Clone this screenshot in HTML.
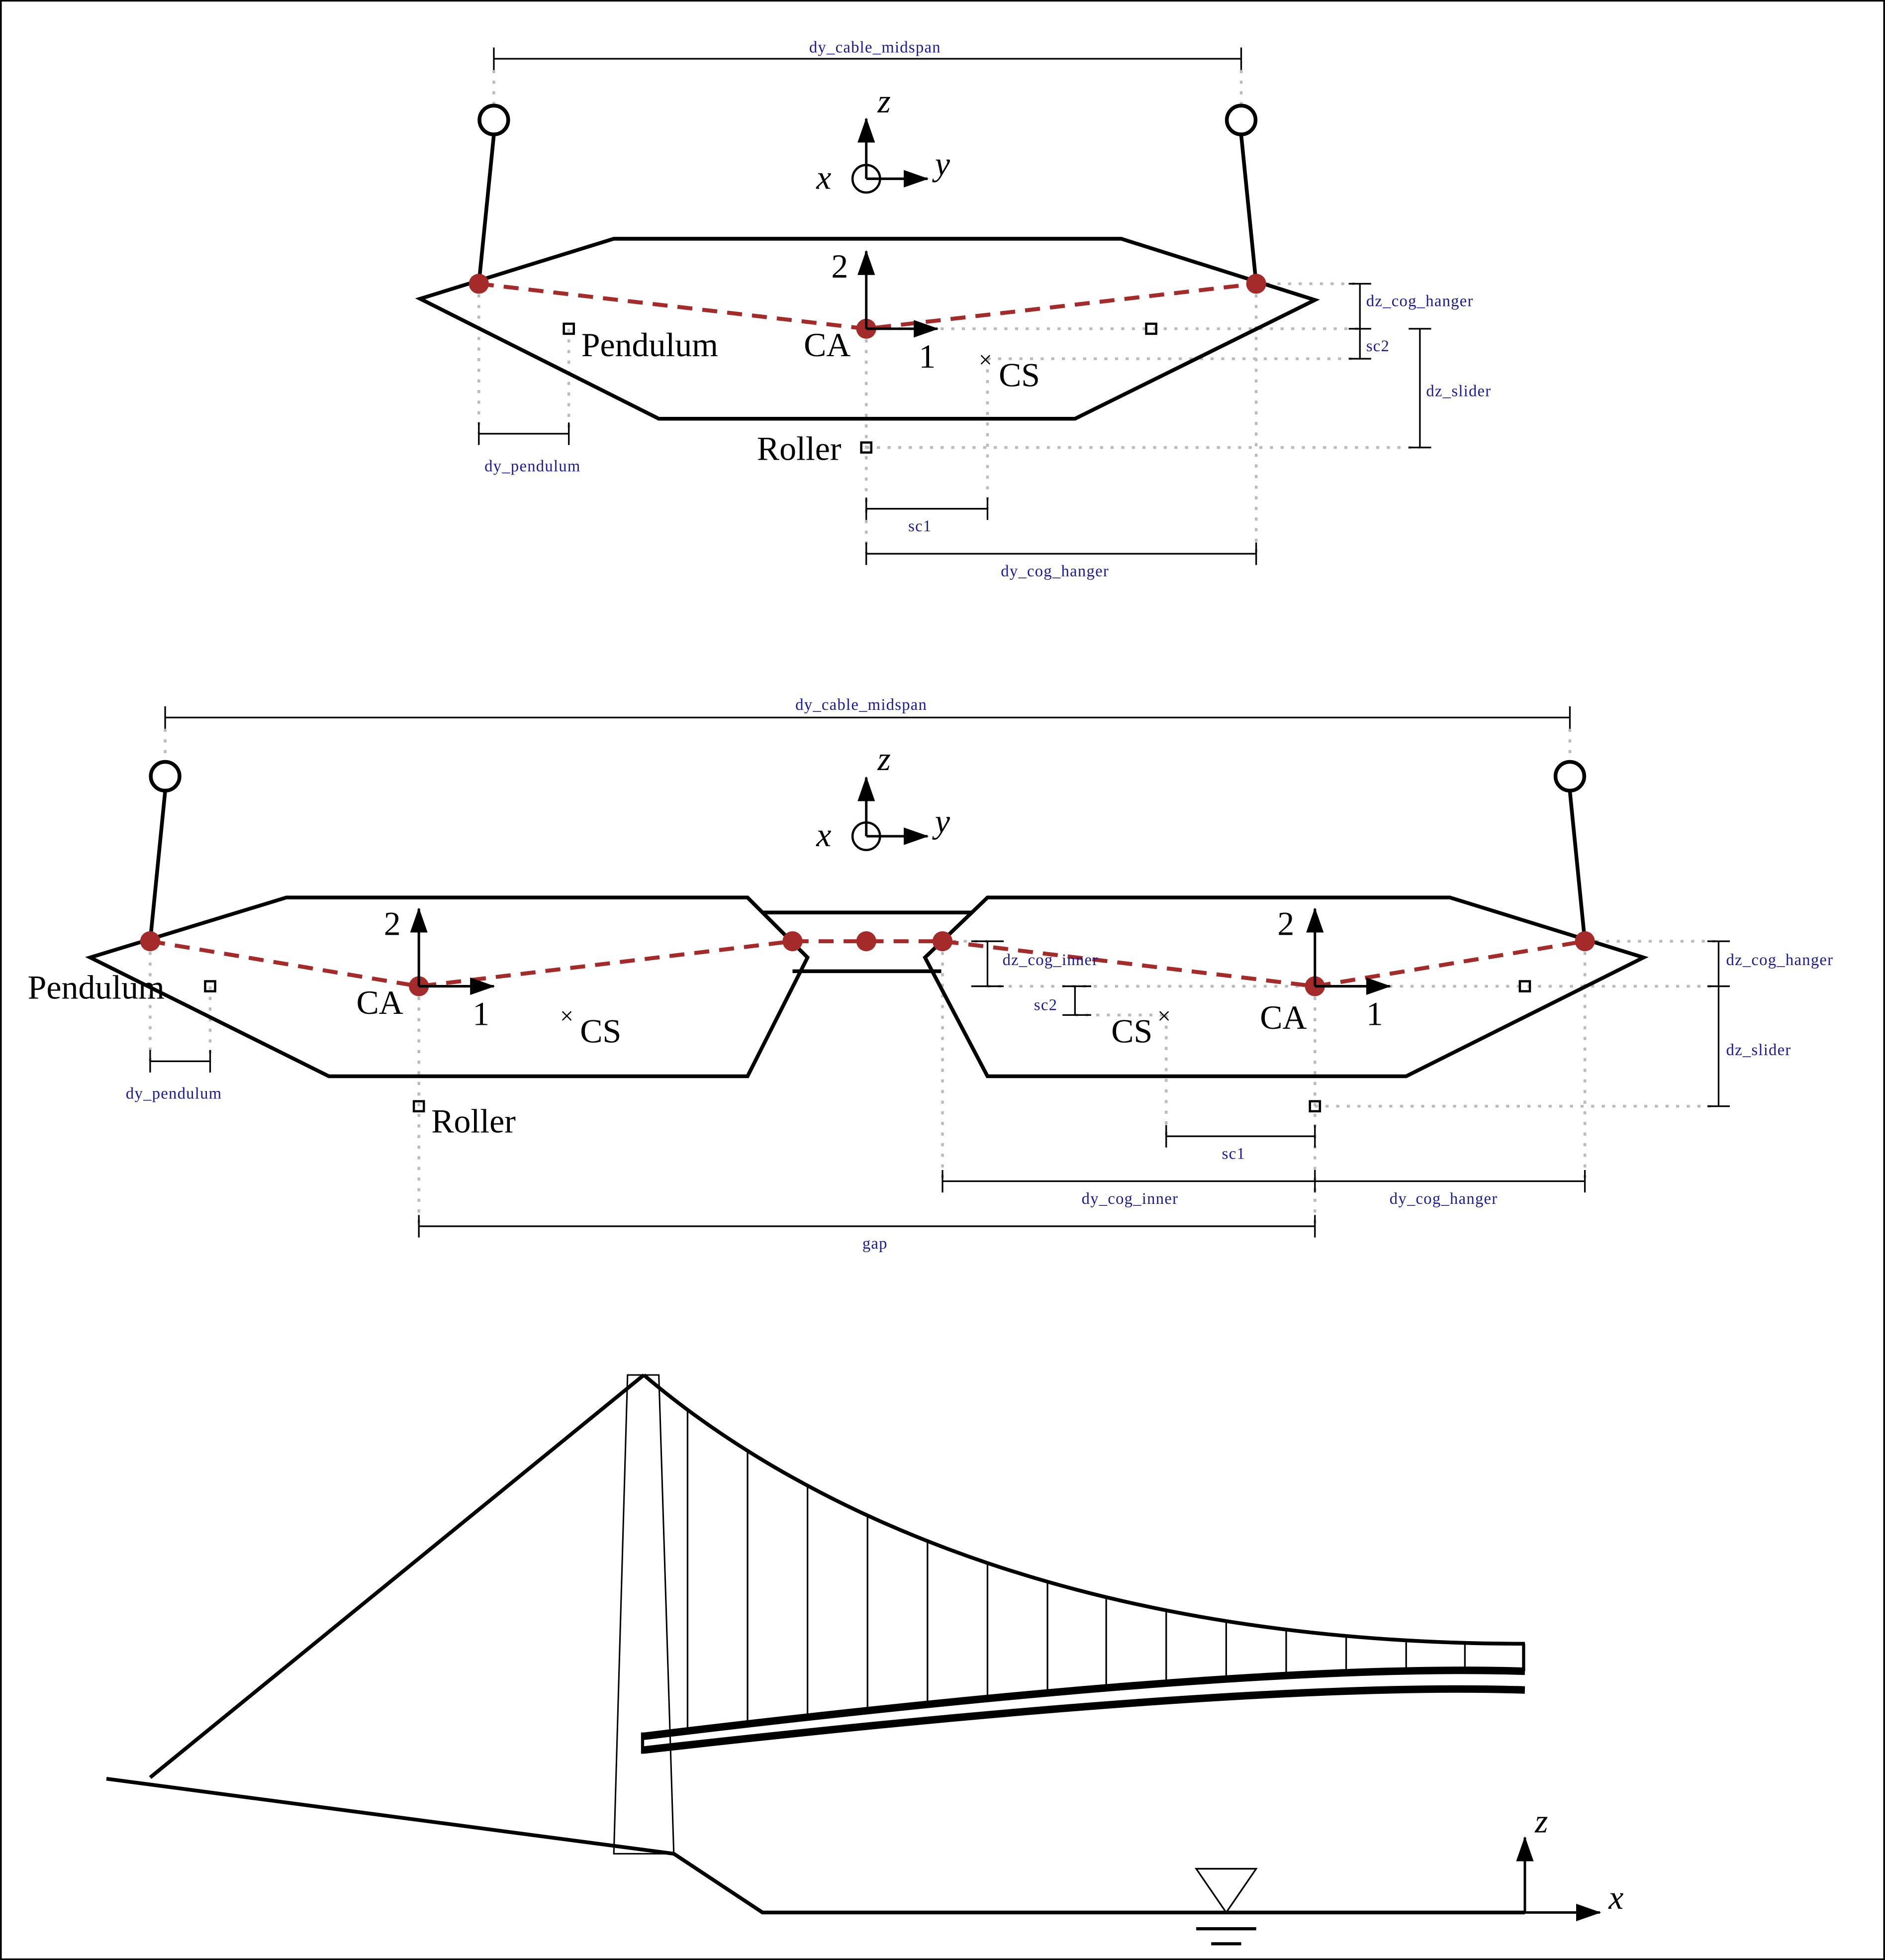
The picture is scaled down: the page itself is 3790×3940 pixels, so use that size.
<!DOCTYPE html>
<html><head><meta charset="utf-8"><style>
html,body{margin:0;padding:0;background:#fff}
svg{display:block}
.t{font-family:"Liberation Serif",serif;font-size:27px;fill:#000}
.b{font-family:"Liberation Serif",serif;font-size:13px;fill:#1a1a9a;letter-spacing:0.5px}
.d{stroke:#bbb;stroke-width:2.2;stroke-dasharray:2.5 6;fill:none}
.k{stroke:#000;stroke-width:1.3;fill:none}
.s{stroke:#000;stroke-width:3;fill:none;stroke-linejoin:miter}
.r{stroke:#a52a2a;stroke-width:3.2;stroke-dasharray:12 8;fill:none}
</style></head><body>
<svg id="fig" width="3790" height="3940" viewBox="0 0 1508 1568" xmlns="http://www.w3.org/2000/svg">
<defs><marker id="ah" viewBox="0 0 20 14" refX="19" refY="7" markerWidth="20" markerHeight="14" markerUnits="userSpaceOnUse" orient="auto"><path d="M0,0 L20,7 L0,14 z"/></marker></defs>
<rect x="0.5" y="0.5" width="1507" height="1567" fill="#fff" stroke="#000" stroke-width="1.5"/>

<!-- TOP -->
<g>
<path class="d" d="M395,56V84 M993,56V84 M383,227V347 M455,263V347 M693,263V443 M790,287V407 M1005,227V443 M1005,227H1088 M693,263H1088 M790,287H1088 M693,358H1136"/>
<path class="k" d="M395,47H993 M395,38V56 M993,38V56"/>
<text class="b" x="700" y="42" text-anchor="middle">dy_cable_midspan</text>
<circle cx="395" cy="96" r="11.5" class="s"/><circle cx="993" cy="96" r="11.5" class="s"/>
<path class="s" d="M395,108L383,227 M993,108L1005,227"/>
<path class="k" style="stroke-width:2" d="M693,143V95" marker-end="url(#ah)"/>
<path class="k" style="stroke-width:2" d="M693,143H742" marker-end="url(#ah)"/>
<circle cx="693" cy="143" r="11" class="k" style="stroke-width:1.8"/>
<text class="t" x="702" y="90" font-style="italic">z</text><text class="t" x="748" y="140" font-style="italic">y</text><text class="t" x="653" y="151" font-style="italic">x</text>
<path class="s" d="M336,239L491,191H897L1052,240L860,335H527Z"/>
<path class="r" d="M383,227L693,263L1005,227"/>
<circle cx="383" cy="227" r="8" fill="#a52a2a"/><circle cx="693" cy="263" r="8" fill="#a52a2a"/><circle cx="1005" cy="227" r="8" fill="#a52a2a"/>
<path class="k" style="stroke-width:2" d="M693,263V201" marker-end="url(#ah)"/>
<path class="k" style="stroke-width:2" d="M693,263H750" marker-end="url(#ah)"/>
<text class="t" x="665" y="222">2</text><text class="t" x="735" y="294">1</text><text class="t" x="643" y="285">CA</text>
<rect x="451" y="259" width="8" height="8" class="k" style="stroke-width:1.8"/><text class="t" x="465" y="285">Pendulum</text>
<rect x="917" y="259" width="8" height="8" class="k" style="stroke-width:1.8"/>
<text class="t" x="783" y="294" style="font-size:19px">×</text><text class="t" x="799" y="309">CS</text>
<rect x="689" y="354" width="8" height="8" class="k" style="stroke-width:1.8"/><text class="t" x="673" y="368" text-anchor="end">Roller</text>
<path class="k" d="M383,347H455 M383,338V356 M455,338V356"/><text class="b" x="426" y="377" text-anchor="middle">dy_pendulum</text>
<path class="k" d="M693,407H790 M693,398V416 M790,398V416"/><text class="b" x="736" y="425" text-anchor="middle">sc1</text>
<path class="k" d="M693,443H1005 M693,434V452 M1005,434V452"/><text class="b" x="844" y="461" text-anchor="middle">dy_cog_hanger</text>
<path class="k" d="M1088,227V287 M1079,227H1097 M1079,263H1097 M1079,287H1097"/>
<text class="b" x="1093" y="245">dz_cog_hanger</text><text class="b" x="1093" y="281">sc2</text>
<path class="k" d="M1136,263V358 M1127,263H1145 M1127,358H1145"/><text class="b" x="1141" y="317">dz_slider</text>
</g>

<!-- MIDDLE -->
<g>
<path class="d" d="M132,583V610 M1256,583V610 M120,753V849 M168,789V849 M335,789V981 M754,753V945 M933,812V909 M1052,789V981 M1268,753V945 M1268,753H1375 M1052,789H1375 M1052,885H1375 M790,789H1052 M860,812H933 M754,753H790"/>
<path class="k" d="M132,574H1256 M132,565V583 M1256,565V583"/>
<text class="b" x="689" y="568" text-anchor="middle">dy_cable_midspan</text>
<circle cx="132" cy="621" r="11.5" class="s"/><circle cx="1256" cy="621" r="11.5" class="s"/>
<path class="s" d="M132,633L120,753 M1256,633L1268,753"/>
<path class="k" style="stroke-width:2" d="M693,669V622" marker-end="url(#ah)"/>
<path class="k" style="stroke-width:2" d="M693,669H742" marker-end="url(#ah)"/>
<circle cx="693" cy="669" r="11" class="k" style="stroke-width:1.8"/>
<text class="t" x="702" y="616" font-style="italic">z</text><text class="t" x="748" y="666" font-style="italic">y</text><text class="t" x="653" y="677" font-style="italic">x</text>
<path class="s" d="M72,766L229,718H598L646,766L598,861H263Z"/>
<path class="s" d="M740,766L790,718H1160L1315,766L1125,861H790Z"/>
<path class="s" d="M610,730H778 M634,777H753"/>
<path class="r" d="M120,753L335,789L634,753L754,753L1052,789L1268,753"/>
<g fill="#a52a2a"><circle cx="120" cy="753" r="8"/><circle cx="335" cy="789" r="8"/><circle cx="634" cy="753" r="8"/><circle cx="693" cy="753" r="8"/><circle cx="754" cy="753" r="8"/><circle cx="1052" cy="789" r="8"/><circle cx="1268" cy="753" r="8"/></g>
<path class="k" style="stroke-width:2" d="M335,789V727" marker-end="url(#ah)"/>
<path class="k" style="stroke-width:2" d="M335,789H395" marker-end="url(#ah)"/>
<text class="t" x="307" y="748">2</text><text class="t" x="378" y="820">1</text><text class="t" x="285" y="811">CA</text>
<path class="k" style="stroke-width:2" d="M1052,789V727" marker-end="url(#ah)"/>
<path class="k" style="stroke-width:2" d="M1052,789H1112" marker-end="url(#ah)"/>
<text class="t" x="1022" y="748">2</text><text class="t" x="1093" y="820">1</text><text class="t" x="1008" y="823">CA</text>
<rect x="164" y="785" width="8" height="8" class="k" style="stroke-width:1.8"/><text class="t" x="22" y="799">Pendulum</text>
<rect x="1216" y="785" width="8" height="8" class="k" style="stroke-width:1.8"/>
<text class="t" x="448" y="819" style="font-size:19px">×</text><text class="t" x="464" y="834">CS</text>
<text class="t" x="926" y="819" style="font-size:19px">×</text><text class="t" x="889" y="834">CS</text>
<rect x="331" y="881" width="8" height="8" class="k" style="stroke-width:1.8"/><text class="t" x="345" y="906">Roller</text>
<rect x="1048" y="881" width="8" height="8" class="k" style="stroke-width:1.8"/>
<path class="k" d="M790,753V789 M777,753H803 M777,789H803"/><text class="b" x="802" y="772">dz_cog_inner</text>
<path class="k" d="M860,789V812 M850,789H873 M850,812H873"/><text class="b" x="846" y="808" text-anchor="end">sc2</text>
<path class="k" d="M1375,753V885 M1366,753H1384 M1366,789H1384 M1366,885H1384"/>
<text class="b" x="1381" y="772">dz_cog_hanger</text><text class="b" x="1381" y="844">dz_slider</text>
<path class="k" d="M120,849H168 M120,840V858 M168,840V858"/><text class="b" x="139" y="879" text-anchor="middle">dy_pendulum</text>
<path class="k" d="M933,909H1052 M933,900V918 M1052,900V918"/><text class="b" x="987" y="927" text-anchor="middle">sc1</text>
<path class="k" d="M754,945H1268 M754,936V954 M1052,936V954 M1268,936V954"/>
<text class="b" x="904" y="963" text-anchor="middle">dy_cog_inner</text><text class="b" x="1155" y="963" text-anchor="middle">dy_cog_hanger</text>
<path class="k" d="M335,981H1052 M335,972V990 M1052,972V990"/><text class="b" x="700" y="999" text-anchor="middle">gap</text>
</g>

<!-- BOTTOM -->
<g id="bridge">
<path class="k" style="stroke-width:1.2" d="M502,1100H527L539,1483H491Z"/>
<path class="s" d="M120,1422L515,1100 M85,1423L539,1483L610,1530H1220"/>
<path id="cable" class="s" d="M515,1100C650,1215 880,1315 1220,1315"/>
<path class="s" style="stroke-width:6" d="M515,1389Q1000,1330 1220,1337"/>
<path class="s" style="stroke-width:6" d="M515,1400Q1000,1345 1220,1352"/>
<path class="k" style="stroke-width:2.5" d="M514,1386V1403 M1219,1315V1337"/>
<path class="k" style="stroke-width:1.3" d="M957,1495H1005L981,1530Z"/>
<path class="s" style="stroke-width:2.5" d="M957,1543H1005 M969,1555H993"/>
<path class="k" style="stroke-width:2" d="M1220,1530V1470" marker-end="url(#ah)"/>
<path class="k" style="stroke-width:2" d="M1220,1530H1280" marker-end="url(#ah)"/>
<text class="t" x="1228" y="1466" font-style="italic">z</text><text class="t" x="1287" y="1527" font-style="italic">x</text>
</g>
</svg>
<script>
const hangerX = [550,598,646,694,742,790,838,885,933,981,1029,1077,1125,1172];
const hangerBottom = [1385,1379,1374,1369,1364,1360,1356,1352,1349,1346,1343,1341,1339,1338];
const cable = document.getElementById('cable');
const L = cable.getTotalLength();
function cableY(x){let lo=0,hi=L;for(let i=0;i<40;i++){const m=(lo+hi)/2;if(cable.getPointAtLength(m).x<x)lo=m;else hi=m;}return cable.getPointAtLength(lo).y;}
const g = document.getElementById('bridge');
hangerX.forEach((x,i)=>{
  const l=document.createElementNS('http://www.w3.org/2000/svg','line');
  l.setAttribute('x1',x);l.setAttribute('x2',x);
  l.setAttribute('y1',cableY(x));l.setAttribute('y2',hangerBottom[i]);
  l.setAttribute('stroke','#000');l.setAttribute('stroke-width','1.3');
  
  
  g.appendChild(l);
});
</script>
</body></html>
